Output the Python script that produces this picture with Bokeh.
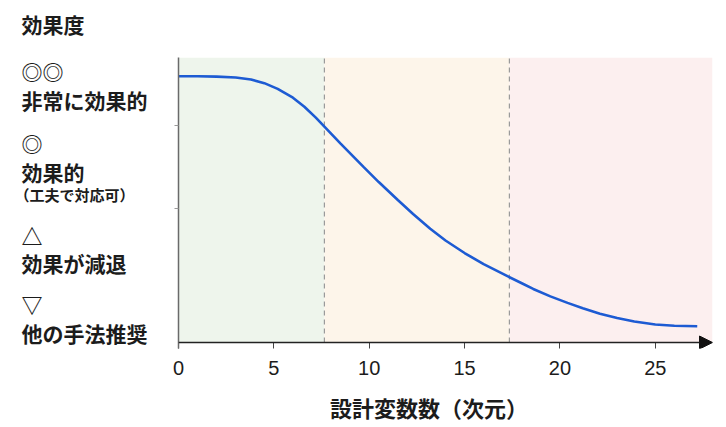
from bokeh.plotting import figure
from bokeh.layouts import row
from bokeh.models import Range1d, FixedTicker, Arrow, NormalHead
from bokeh.core.properties import value
from bokeh.embed import file_html
from bokeh.resources import INLINE

# ---- data ----
dims = [0, 1, 2, 3, 3.8, 4.5, 5.2, 6.0, 6.6, 7.2, 7.7, 8.5, 9.7, 10.5, 11.5,
        12.3, 13.2, 14.0, 15.0, 16.0, 17.3, 18.0, 18.6, 19.5, 20.4, 21.2, 22.1,
        23.0, 23.9, 25.0, 26.0, 27.2]
effect = [93.4, 93.4, 93.3, 93.0, 92.3, 91.0, 89.0, 85.9, 82.7, 78.9, 75.4, 69.8,
          61.6, 56.3, 50.0, 45.1, 39.9, 35.8, 31.4, 27.5, 23.1, 20.8, 18.8,
          16.2, 13.9, 12.0, 10.1, 8.6, 7.4, 6.3, 5.9, 5.7]
zone_start = [0, 7.65, 17.35]
zone_end = [7.65, 17.35, 28]
zone_colors = ["#eef5ec", "#fdf5ea", "#fcefef"]
boundaries = [7.65, 17.35]
x_ticks = [0, 5, 10, 15, 20, 25]
y_ticks = [47, 76]
level_symbols = ["◎◎", "◎", "△", "▽"]
level_names = ["非常に効果的", "効果的", "効果が減退", "他の手法推奨"]
level_note = "（工夫で対応可）"
y_title = "効果度"
x_title = "設計変数数（次元）"

FONT = "Noto Sans CJK JP"
TXT = "#1c1c1c"
H = 425

# ---- left text panel (pixel coordinates, y downward) ----
LW = 166
left = figure(width=LW, height=H, x_range=Range1d(0, LW), y_range=Range1d(H, 0),
              output_backend="svg", toolbar_location=None,
              min_border_left=0, min_border_right=0, min_border_top=0, min_border_bottom=0)
left.frame_align = False
left.axis.visible = False
left.grid.visible = False
left.outline_line_color = None
left.background_fill_color = "white"

def txt(xs, ys, texts, size, style="bold"):
    left.text(x=xs, y=ys, text=texts, text_font=value(FONT),
              text_font_size=value(size), text_font_style=style,
              text_color=TXT, text_align="left", text_baseline="middle")

LX = 21
txt([LX], [23], [y_title], "21px")
txt([LX] * 4, [70, 142, 234, 303], level_symbols, "21px", "bold")
txt([LX] * 4, [99, 171, 262, 332], level_names, "21px")
txt([14], [194], [level_note], "15px")

# ---- main chart ----
p = figure(width=720 - LW, height=H, x_range=Range1d(0, 28), y_range=Range1d(-2.1, 100),
           output_backend="svg", toolbar_location=None,
           min_border_left=12, min_border_right=8, min_border_top=57, min_border_bottom=76)
p.frame_align = False
p.background_fill_color = "white"
p.outline_line_color = None
p.xgrid.visible = False
p.ygrid.visible = False

p.quad(left=zone_start, right=zone_end, bottom=0, top=100, fill_color=zone_colors,
       line_color=None, level="underlay")
p.segment(x0=boundaries, y0=0, x1=boundaries, y1=100, line_color="#9a9a9a",
          line_width=1.2, line_dash="5 4")

p.line(dims, effect, line_color="#1d5bd3", line_width=2.6)

xa = p.xaxis[0]
xa.ticker = FixedTicker(ticks=x_ticks)
xa.minor_tick_line_color = None
xa.major_tick_out = 0
xa.major_tick_in = 6
xa.major_tick_line_color = "#444"
xa.axis_line_color = None
xa.major_label_text_font = "Liberation Sans"
xa.major_label_text_font_size = "20px"
xa.major_label_text_color = TXT
xa.major_label_standoff = 12
xa.axis_label = x_title + "\u3000\u3000"
xa.axis_label_text_font = FONT
xa.axis_label_text_font_size = "22px"
xa.axis_label_text_font_style = "bold"
xa.axis_label_text_color = TXT
xa.axis_label_standoff = 13

ya = p.yaxis[0]
ya.ticker = FixedTicker(ticks=y_ticks)
ya.minor_tick_line_color = None
ya.major_tick_out = 4
ya.major_tick_in = 0
ya.major_tick_line_color = "#999"
ya.axis_line_color = "#6a6a6a"
ya.axis_line_width = 1.5
ya.major_label_overrides = {t: "" for t in y_ticks}

p.add_layout(Arrow(end=NormalHead(size=13, fill_color="#111", line_color="#111"),
                   x_start=0, y_start=0, x_end=28, y_end=0,
                   line_color="#222", line_width=1.5))

layout = row(left, p)
open("out.html", "w").write(file_html(layout, INLINE))
